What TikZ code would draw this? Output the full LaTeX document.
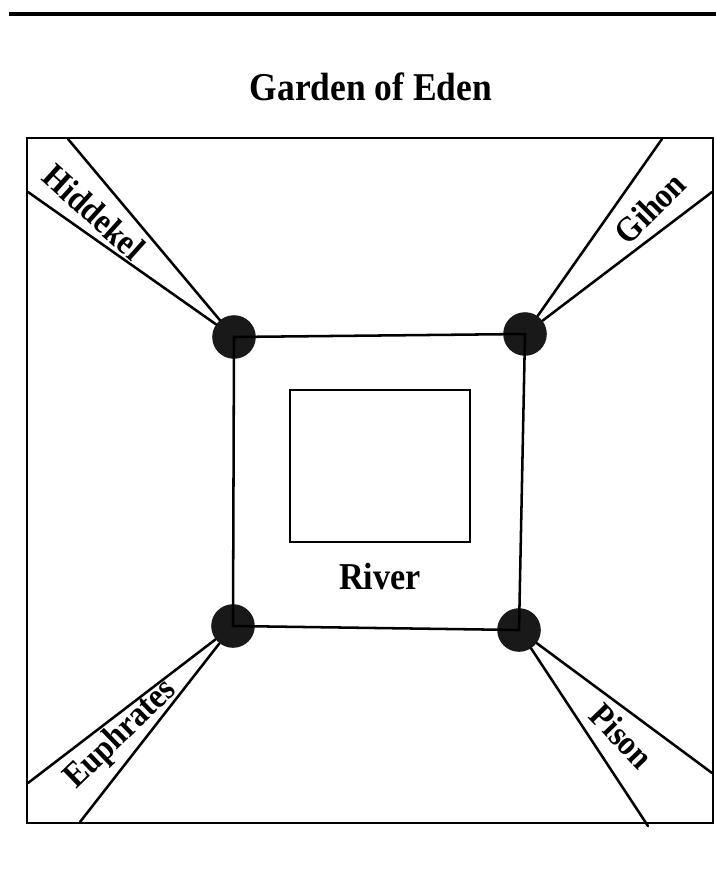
\documentclass[tikz,border=0pt]{standalone}
\usepackage{fontspec}
\setmainfont{Liberation Serif}
\usepackage{tikz}
\usetikzlibrary{positioning,calc}

\newcommand{\narrow}[1]{\scalebox{0.9}[1]{#1}}

\begin{document}
\begin{tikzpicture}[
    x=0.025cm, y=-0.025cm,
    edge/.style={line width=1.8pt, line cap=round},
    frame/.style={draw, line width=2pt},
    dot/.style={circle, fill=black!90, minimum size=31pt, inner sep=0pt},
    title/.style={font=\fontsize{28}{32}\selectfont\bfseries},
    river/.style={font=\fontsize{25}{28}\selectfont\bfseries, inner sep=1pt}
]
\useasboundingbox (0,0) rectangle (716,894);

% Rule and title
\coordinate (ruleL) at (9,14);
\coordinate (ruleR) at (716,14);
\draw[line width=2.6pt] (ruleL) -- (ruleR);
\node[title] (eden) at (371,87) {\narrow{Garden of Eden}};

% Garden border
\node[frame, minimum width=686*0.025cm, minimum height=685*0.025cm, inner sep=0pt] (garden) at (370,480.5) {};

% Inner square with the four sources
\node[dot] (tl) at (234,337) {};
\node[dot] (tr) at (525,334) {};
\node[dot] (bl) at (233,626) {};
\node[dot] (br) at (519,630) {};
\draw[edge] (tl.center) -- (tr.center);
\draw[edge] (tr.center) -- (br.center);
\draw[edge] (br.center) -- (bl.center);
\draw[edge] (bl.center) -- (tl.center);

% River
\node[frame, minimum width=180*0.025cm, minimum height=152*0.025cm, inner sep=0pt] (pool) at (380,466) {};
\node[river, font=\fontsize{27}{30}\selectfont\bfseries, below=0.45cm of pool] (rivertext) {\narrow{River}};

% End points of the four rivers on the border
\coordinate (hidA) at (68,139);
\coordinate (hidB) at (28,192);
\coordinate (gihA) at (662,139);
\coordinate (gihB) at (712,192);
\coordinate (eupA) at (28,783);
\coordinate (eupB) at (80,822);
\coordinate (pisA) at (712,773);
\coordinate (pisB) at (648,826);

\draw[edge] (tl) -- (hidA);
\draw[edge] (tl) -- (hidB);
\draw[edge] (tr) -- (gihA);
\draw[edge] (tr) -- (gihB);
\draw[edge] (bl) -- (eupA);
\draw[edge] (bl) -- (eupB);
\draw[edge] (br) -- (pisA);
\draw[edge] (br) -- (pisB);

% River names
\node[river, rotate=-42] (hid) at (94,212) {\narrow{Hiddekel}};
\node[river, rotate=45] (gih) at (650,208) {\narrow{Gihon}};
\node[river, rotate=44] (eup) at (121,735) {\narrow{Euphrates}};
\node[river, rotate=-46] (pis) at (622,736) {\narrow{Pison}};

\end{tikzpicture}
\end{document}
